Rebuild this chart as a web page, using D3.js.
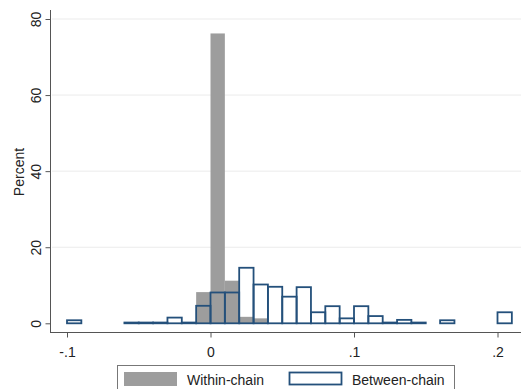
<!DOCTYPE html>
<html>
<head>
<meta charset="utf-8">
<script src="https://cdn.jsdelivr.net/npm/d3@7"></script>
<style>
  body { margin: 0; background: #fff; }
  text { font-family: "Liberation Sans", Arial, sans-serif; }
</style>
</head>
<body>
<svg id="chart" width="521" height="389"></svg>
<script>
// histogram data (percent per bin, bin width .01)
var binWidth = 0.01;

var withinBins = [-0.01, 0, 0.01, 0.02, 0.03];
var withinPct  = [8.2, 76.2, 11.2, 1.7, 1.3];

var betweenBins = [-0.10, -0.06, -0.05, -0.04, -0.03, -0.02, -0.01, 0, 0.01, 0.02,
                   0.03, 0.04, 0.05, 0.06, 0.07, 0.08, 0.09, 0.10, 0.11, 0.12,
                   0.13, 0.14, 0.16, 0.20];
var betweenPct  = [0.8, 0.2, 0.2, 0.2, 1.5, 0.2, 4.6, 8.1, 8.1, 14.6,
                   10.2, 9.6, 7.0, 9.5, 2.9, 4.5, 1.3, 4.5, 1.9, 0.2,
                   0.9, 0.2, 0.8, 2.9];

var xTicks = [-0.1, 0, 0.1, 0.2];
var xTickLabels = ["-.1", "0", ".1", ".2"];
var yTicks = [0, 20, 40, 60, 80];

var legendLabels = ["Within-chain", "Between-chain"];

var greyFill = "#9d9d9d";
var blueLine = "#24507b";
var fontSize = 14;

var svg = d3.select("#chart");

var x = d3.scaleLinear().domain([-0.1, 0.2]).range([67, 497.5]);
var y = d3.scaleLinear().domain([0, 80]).range([323.3, 19]);

// gridlines
svg.append("g")
  .selectAll("line")
  .data(yTicks.slice(1))
  .enter().append("line")
  .attr("x1", 52).attr("x2", 521)
  .attr("y1", function(d) { return y(d); })
  .attr("y2", function(d) { return y(d); })
  .attr("stroke", "#ebebeb")
  .attr("stroke-width", 1);

// within-chain bars
svg.append("g")
  .selectAll("rect")
  .data(withinBins)
  .enter().append("rect")
  .attr("x", function(d) { return x(d); })
  .attr("width", function(d) { return x(d + binWidth) - x(d); })
  .attr("y", function(d, i) { return y(withinPct[i]); })
  .attr("height", function(d, i) { return y(0) - y(withinPct[i]); })
  .attr("fill", greyFill);

// between-chain bars
svg.append("g")
  .selectAll("rect")
  .data(betweenBins)
  .enter().append("rect")
  .attr("x", function(d) { return x(d); })
  .attr("width", function(d) { return x(d + binWidth) - x(d); })
  .attr("y", function(d, i) { return y(betweenPct[i]); })
  .attr("height", function(d, i) { return y(0) - y(betweenPct[i]); })
  .attr("fill", "none")
  .attr("stroke", blueLine)
  .attr("stroke-width", 1.8);

// axes
var axisColor = "#555";

svg.append("line")
  .attr("x1", 50.5).attr("x2", 50.5)
  .attr("y1", 10).attr("y2", 333)
  .attr("stroke", axisColor);

svg.append("line")
  .attr("x1", 50).attr("x2", 521)
  .attr("y1", 332.5).attr("y2", 332.5)
  .attr("stroke", axisColor);

var xAxis = svg.append("g")
  .attr("transform", "translate(0,332.5)")
  .call(d3.axisBottom(x).tickValues(xTicks).tickSize(5)
        .tickFormat(function(d, i) { return xTickLabels[i]; }));
xAxis.select(".domain").remove();
xAxis.selectAll("line").attr("stroke", axisColor);
xAxis.selectAll("text")
  .attr("font-size", fontSize)
  .attr("fill", "#222")
  .attr("dy", null)
  .attr("y", 24.5);

var yAxis = svg.append("g")
  .attr("transform", "translate(50.5,0)")
  .call(d3.axisLeft(y).tickValues(yTicks).tickSize(5).tickFormat(d3.format("d")));
yAxis.select(".domain").remove();
yAxis.selectAll("line").attr("stroke", axisColor);
yAxis.selectAll("text")
  .attr("font-size", fontSize)
  .attr("fill", "#222")
  .attr("x", null).attr("dy", null)
  .attr("text-anchor", "middle")
  .attr("transform", "translate(-10,0) rotate(-90)");

svg.append("text")
  .attr("transform", "translate(24,172) rotate(-90)")
  .attr("text-anchor", "middle")
  .attr("font-size", fontSize)
  .attr("fill", "#222")
  .text("Percent");

// legend
var legend = svg.append("g");
legend.append("rect")
  .attr("x", 117.5).attr("y", 365.5)
  .attr("width", 337).attr("height", 30)
  .attr("fill", "#fff")
  .attr("stroke", "#777");

legend.append("rect")
  .attr("x", 124).attr("y", 372)
  .attr("width", 53).attr("height", 14)
  .attr("fill", greyFill);
legend.append("text")
  .attr("x", 187).attr("y", 384.5)
  .attr("font-size", fontSize).attr("fill", "#222")
  .text(legendLabels[0]);

legend.append("rect")
  .attr("x", 289.5).attr("y", 372.5)
  .attr("width", 52).attr("height", 12)
  .attr("fill", "#fff")
  .attr("stroke", blueLine)
  .attr("stroke-width", 1.8);
legend.append("text")
  .attr("x", 352).attr("y", 384.5)
  .attr("font-size", fontSize).attr("fill", "#222")
  .text(legendLabels[1]);
</script>
</body>
</html>
